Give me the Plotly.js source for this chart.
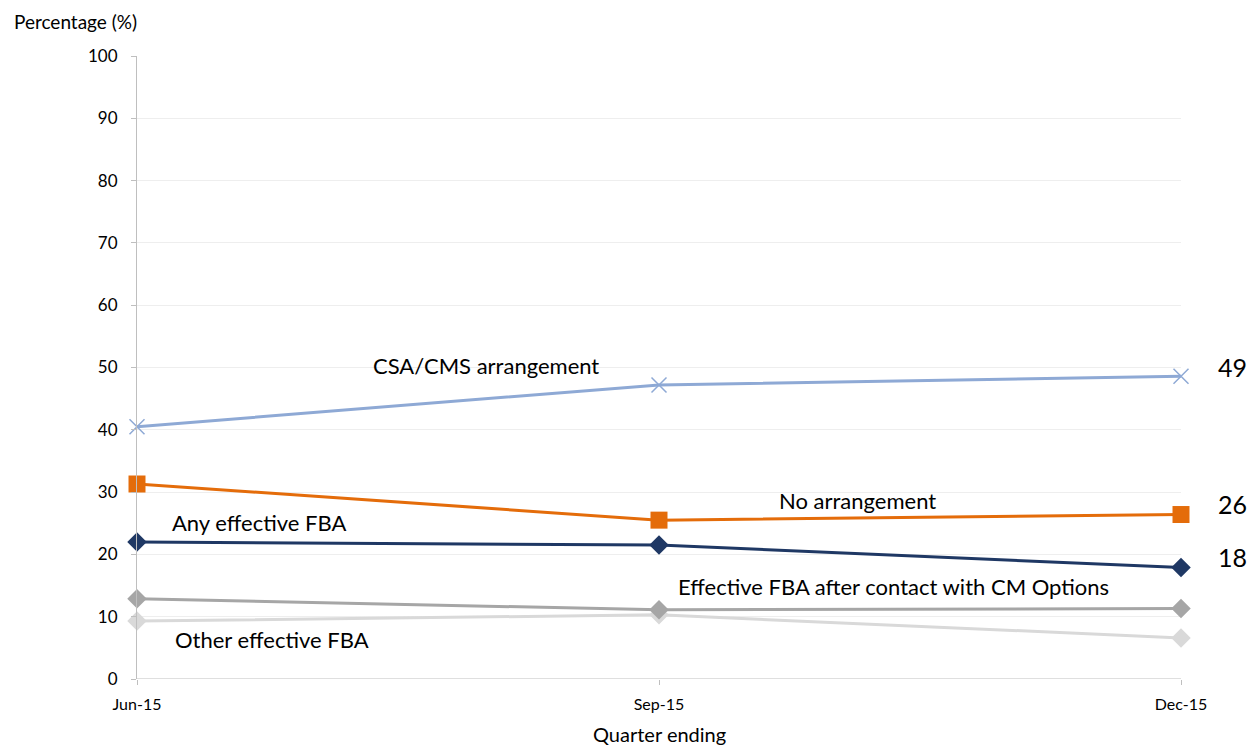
<!DOCTYPE html>
<html>
<head>
<meta charset="utf-8">
<script src="https://cdn.plot.ly/plotly-3.0.1.min.js"></script>
<style>html,body{margin:0;padding:0;background:#fff;}#chart{width:1249px;height:747px;}</style>
</head>
<body>
<div id="chart"></div>
<script>
const quarters = ["Jun-15", "Sep-15", "Dec-15"];
const csaCms = [40.5, 47.2, 48.6];
const noArrangement = [31.3, 25.5, 26.4];
const anyEffectiveFBA = [22.0, 21.5, 17.9];
const effectiveAfterContact = [12.9, 11.1, 11.3];
const otherEffectiveFBA = [9.3, 10.3, 6.6];
const endLabels = ["49", "26", "18"];
const endValues = [csaCms[2], noArrangement[2], anyEffectiveFBA[2]];

const xIdx = quarters.map((q, i) => i);
const font = "Lato, 'Open Sans', sans-serif";

const traces = [
  {x: xIdx, y: otherEffectiveFBA, mode: "lines+markers", cliponaxis: false, line: {color: "#D9D9D9", width: 3}, marker: {symbol: "diamond", size: 15, color: "#D9D9D9"}},
  {x: xIdx, y: effectiveAfterContact, mode: "lines+markers", cliponaxis: false, line: {color: "#A6A6A6", width: 3}, marker: {symbol: "diamond", size: 15, color: "#A6A6A6"}},
  {x: xIdx, y: anyEffectiveFBA, mode: "lines+markers", cliponaxis: false, line: {color: "#1F3864", width: 3}, marker: {symbol: "diamond", size: 15, color: "#1F3864"}},
  {x: xIdx, y: noArrangement, mode: "lines+markers", cliponaxis: false, line: {color: "#E46C0A", width: 3}, marker: {symbol: "square", size: 17, color: "#E46C0A"}},
  {x: xIdx, y: csaCms, mode: "lines+markers", cliponaxis: false, line: {color: "#8EA9D5", width: 3}, marker: {symbol: "x-thin-open", size: 15, color: "#8EA9D5", line: {color: "#8EA9D5", width: 1.5}}}
];

const lblFont = {family: font, size: 22, color: "#000"};
const annotations = [
  {x: 0.669, y: 50.4, text: "CSA/CMS arrangement"},
  {x: 1.381, y: 28.6, text: "No arrangement"},
  {x: 0.234, y: 25.2, text: "Any effective FBA"},
  {x: 1.450, y: 14.8, text: "Effective FBA after contact with CM Options"},
  {x: 0.259, y: 6.4, text: "Other effective FBA"}
].map(a => Object.assign({xref: "x", yref: "y", showarrow: false, font: lblFont, xanchor: "center", yanchor: "middle"}, a));

endLabels.forEach((t, i) => {
  annotations.push({x: 2, y: endValues[i], xref: "x", yref: "y", text: t, showarrow: false,
    xshift: 51, yshift: [9, 11, 10][i], font: {family: font, size: 25, color: "#000"}, xanchor: "center", yanchor: "middle"});
});

annotations.push({xref: "paper", yref: "paper", x: -0.1197, y: 1.0546, xanchor: "left", yanchor: "middle",
  text: "Percentage (%)", showarrow: false, font: {family: font, size: 19, color: "#000"}});
annotations.push({xref: "paper", yref: "paper", x: 0.5, y: -0.0883, xanchor: "center", yanchor: "middle",
  text: "Quarter ending", showarrow: false, font: {family: font, size: 20, color: "#000"}});

const layout = {
  width: 1249, height: 747,
  margin: {l: 137, r: 68, t: 56, b: 68},
  paper_bgcolor: "#fff", plot_bgcolor: "#fff",
  showlegend: false,
  font: {family: font, color: "#000"},
  xaxis: {
    range: [0, 2], tickvals: xIdx, ticktext: quarters, showgrid: false, zeroline: false,
    showline: false, ticks: "outside", ticklen: 5, tickcolor: "#BFBFBF", ticklabelstandoff: 6,
    tickfont: {family: font, size: 16, color: "#000"}, fixedrange: true
  },
  yaxis: {
    range: [0, 100], dtick: 10, showgrid: true, gridcolor: "#EEEEEE", gridwidth: 1,
    zeroline: false, showline: true, linecolor: "#BFBFBF", linewidth: 1,
    ticks: "outside", ticklen: 5, tickcolor: "#BFBFBF", ticklabelstandoff: 10,
    tickfont: {family: font, size: 17, color: "#000"}, fixedrange: true
  },
  shapes: [
    {type: "line", xref: "paper", yref: "y", x0: 0, x1: 1, y0: 0, y1: 0, line: {color: "#BFBFBF", width: 1}}
  ],
  annotations: annotations
};

Plotly.newPlot("chart", traces, layout, {displayModeBar: false, staticPlot: true});
</script>
</body>
</html>
